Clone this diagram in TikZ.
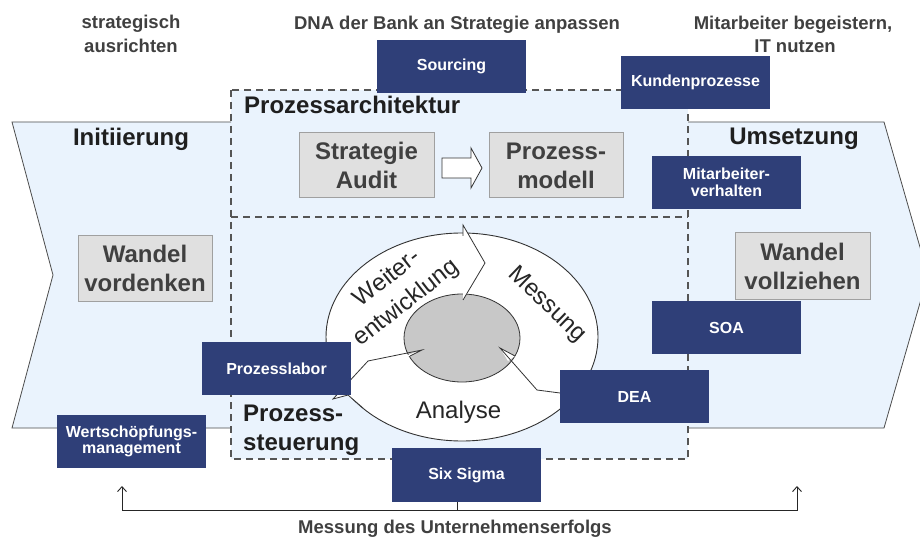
\documentclass[tikz,border=0pt]{standalone}
\usepackage{fontspec}
\setmainfont{Liberation Sans}
\usetikzlibrary{arrows.meta}
\definecolor{lblue}{RGB}{234,243,253}
\definecolor{dblue}{RGB}{47,63,120}
\definecolor{gbox}{RGB}{224,224,224}
\definecolor{gborder}{RGB}{160,160,160}
\definecolor{gtext}{RGB}{64,64,64}
\definecolor{dashgray}{RGB}{85,85,85}
\definecolor{innergray}{RGB}{200,200,200}
\begin{document}
\begin{tikzpicture}[x=1pt,y=-1pt,
  bluebox/.style={fill=dblue, text=white, font=\bfseries\fontsize{16}{16.5}\selectfont, minimum width=149pt, minimum height=53pt, inner sep=0pt, align=center},
  graybox/.style={fill=gbox, draw=gborder, line width=1pt, text=gtext, font=\bfseries\fontsize{24}{29}\selectfont, minimum width=135pt, minimum height=65pt, inner sep=0pt, align=center},
  titletext/.style={font=\bfseries\fontsize{24}{29}\selectfont, text=black!88, inner sep=0pt},
  toptext/.style={font=\bfseries\fontsize{18.5}{24}\selectfont, text=gtext, inner sep=0pt, anchor=base},
  cyctext/.style={font=\fontsize{24}{31}\selectfont, text=black!85, inner sep=0pt, align=center},
  outline/.style={draw=black!70, line width=0.8pt},
  dashline/.style={draw=dashgray, line width=1.8pt, dash pattern=on 7pt off 5pt},
  cycline/.style={draw=black!80, line width=0.8pt, line join=miter}]

\useasboundingbox (0,0) rectangle (920,537);
\clip (0,0) rectangle (920,537);
\fill[white] (0,0) rectangle (920,537);

% chevrons and central frame
\fill[lblue] (12,122) -- (231,122) -- (231,428) -- (12,428) -- (53,275) -- cycle;
\fill[lblue] (688,122) -- (884,122) -- (928,275) -- (884,428) -- (688,428) -- cycle;
\fill[lblue] (231,90) rectangle (688,459);
\draw[outline] (231,122) -- (12,122) -- (53,275) -- (12,428) -- (231,428);
\draw[outline] (688,122) -- (884,122) -- (928,275) -- (884,428) -- (688,428);
\draw[dashline] (231,90) rectangle (688,459);
\draw[dashline] (231,217) -- (688,217);

% titles
\node[titletext, anchor=base] (init) at (131,146) {Initiierung};
\node[titletext, anchor=base] (ums) at (794,145) {Umsetzung};
\node[titletext, anchor=base west] (parch) at (244,114) {Prozessarchitektur};
\node[titletext, anchor=base west] (pst1) at (243,421) {Prozess-};
\node[titletext, anchor=base west] (pst2) at (243,450) {steuerung};

% gray boxes
\node[graybox, minimum width=134pt] (vordenken) at (145,268.5) {Wandel\\vordenken};
\node[graybox, minimum height=66pt] (vollziehen) at (802.5,266) {Wandel\\vollziehen};
\node[graybox] (audit) at (366.5,165.5) {Strategie\\Audit};
\node[graybox, minimum width=134pt] (modell) at (556,165.5) {Prozess-\\modell};

% block arrow between audit and modell
\draw[fill=white, draw=black!80, line width=0.8pt] (442,158) -- (471,158) -- (471,148) -- (482,168) -- (471,188) -- (471,178) -- (442,178) -- cycle;

% cycle
\draw[fill=white, draw=black!80, line width=0.9pt] (462,337) ellipse [x radius=136, y radius=104];
\draw[fill=innergray, draw=black!80, line width=0.8pt] (462,338) ellipse [x radius=58, y radius=44];

% top arrow
\fill[white] (463,225) -- (485,263) -- (463,300) -- cycle;
\draw[cycline] (463,236) -- (463,225) -- (485,263) -- (463,300);
% left arrow
\fill[white] (368,361) -- (333,399) -- (348,395) -- (363,408) -- (385,380) -- cycle;
\fill[white] (422,350) -- (410,356) -- (402,357) -- cycle;
\draw[cycline] (410,356) -- (422,350) -- (368,361) -- (333,399) -- (348,395) -- (363,408);
% right arrow
\fill[white] (500,348) -- (515,356) -- (508,361) -- cycle;
\draw[cycline] (515,356) -- (500,348) -- (537,390) -- (560,393);

\node[cyctext, rotate=38] (weiter) at (397,291) {Weiter-\\entwicklung};
\node[cyctext, rotate=-44] (messung) at (547,305) {Messung};
\node[cyctext, anchor=base] (analyse) at (458.5,418) {Analyse};

% blue boxes
\node[bluebox] (sourcing) at (451.5,66.5) {Sourcing};
\node[bluebox] (kunden) at (695.5,82.5) {Kundenprozesse};
\node[bluebox] (mitarb) at (726.5,182.5) {Mitarbeiter-\\verhalten};
\node[bluebox] (soa) at (726.5,327.5) {SOA};
\node[bluebox] (dea) at (634.5,396.5) {DEA};
\node[bluebox] (labor) at (276.5,368.5) {Prozesslabor};
\node[bluebox] (wsm) at (131.5,441.5) {Wertschöpfungs-\\management};
\node[bluebox, minimum height=54pt] (sixsigma) at (466.5,475) {Six Sigma};

% top texts
\node[toptext] (t1a) at (131,29) {strategisch};
\node[toptext] (t1b) at (131,53) {ausrichten};
\node[toptext] (t2) at (457,30) {DNA der Bank an Strategie anpassen};
\node[toptext] (t3a) at (793,30) {Mitarbeiter begeistern,};
\node[toptext] (t3b) at (795,53) {IT nutzen};

% bottom bracket
\coordinate (bl) at (122,486);
\coordinate (blc) at (122,510);
\coordinate (brc) at (797,510);
\coordinate (br) at (797,486);
\draw[black!85, line width=0.9pt, {Straight Barb[length=5pt,width=9pt]}-{Straight Barb[length=5pt,width=9pt]}] (bl) -- (blc) -- (brc) -- (br);
\draw[black!85, line width=0.9pt] ([xshift=-9.5pt]sixsigma.south) -- ([xshift=-9.5pt]sixsigma.south |- brc);
\node[toptext] (erfolg) at (455,533) {Messung des Unternehmenserfolgs};
\end{tikzpicture}
\end{document}
